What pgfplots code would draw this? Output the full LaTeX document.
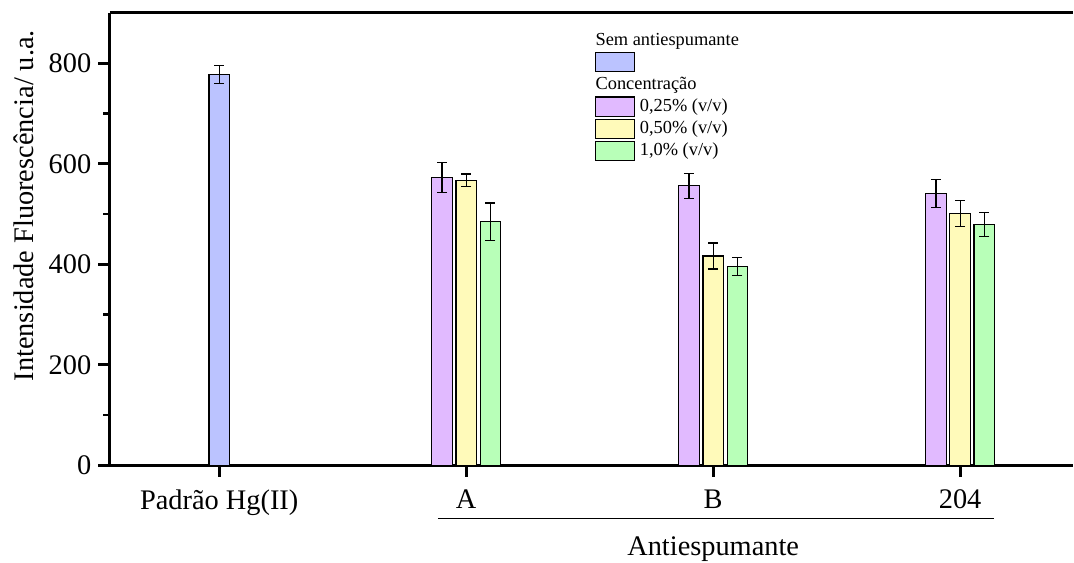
\documentclass[border=0pt]{standalone}
\usepackage{fontspec}
\setmainfont{Liberation Serif}
\usepackage{pgfplots}
\pgfplotsset{compat=1.18}

\definecolor{cBlue}{RGB}{187,195,255}
\definecolor{cPurple}{RGB}{225,186,255}
\definecolor{cYellow}{RGB}{255,250,186}
\definecolor{cGreen}{RGB}{184,255,184}

\pgfplotsset{
  boxleg/.style={legend image code/.code={\draw[##1, line width=0.6pt] (0pt,-4.8pt) rectangle (19.6pt,4.8pt);}},
  titleleg/.style={legend image code/.code={\node[overlay, anchor=west, inner sep=0pt, font=\fontsize{9.2}{10}\selectfont] at (0pt,0pt) {#1};}},
  errstyle/.style={error bars/.cd, y dir=both, y explicit,
    error bar style={line width=0.6pt, black},
    error mark=-,
    error mark options={rotate=90, line width=0.6pt, black, mark size=2.5pt}},
  barstyle/.style={ybar, bar width=0.083, bar shift=0, draw=black, line width=0.6pt, boxleg, errstyle},
}

\begin{document}
\begin{tikzpicture}
\begin{axis}[
  scale only axis, width=482pt, height=226.5pt,
  xmin=-0.443, xmax=3.455, ymin=0, ymax=900,
  axis x line*=box, axis y line*=left,
  axis line style={line width=1.5pt},
  xtick={0,1,2,3}, xticklabels={Padrão Hg(II),A,B,204},
  xtick pos=left,
  ytick={0,200,400,600,800}, minor ytick={100,300,500,700},
  tick align=outside,
  major tick length=5.8pt, minor tick length=3.4pt,
  every tick/.style={black, line width=1.4pt},
  tick label style={font=\fontsize{14.2}{17}\selectfont},
  xticklabel style={yshift=-3pt},
  /pgf/number format/assume math mode=true,
  ylabel={Intensidade Fluorescência/ u.a.},
  ylabel style={font=\fontsize{14.2}{17}\selectfont, at={(axis description cs:-0.1006,0.574)}, anchor=north, inner sep=0pt},
  clip=false,
  legend style={draw=none, fill=none, at={(rel axis cs:0.5031,0.9636)}, anchor=north west,
    inner sep=0pt, font=\fontsize{9.2}{10}\selectfont, row sep=0.9pt, column sep=2.5pt,
    nodes={inner sep=0pt, text height=7.6pt, text depth=2.6pt}},
  legend cell align=left,
]
% standard without antifoam
\addlegendimage{titleleg={Sem antiespumante}}
\addlegendentry{}
\addplot[fill=cBlue, barstyle]
  coordinates {(0,777) +- (0,18)};
\addlegendentry{}

% antifoam concentrations, each group centred on its tick
\addlegendimage{titleleg={Concentração}}
\addlegendentry{}
\addplot[fill=cPurple, barstyle]
  coordinates {(0.902,572.5) +- (0,30) (1.902,556) +- (0,25) (2.902,541) +- (0,28)};
\addlegendentry{0,25\% (v/v)}
\addplot[fill=cYellow, barstyle]
  coordinates {(1,567) +- (0,12.5) (2,416.5) +- (0,26) (3,501) +- (0,25.5)};
\addlegendentry{0,50\% (v/v)}
\addplot[fill=cGreen, barstyle]
  coordinates {(1.098,485) +- (0,37) (2.098,395.5) +- (0,18) (3.098,479) +- (0,24)};
\addlegendentry{1,0\% (v/v)}

% bracket under the antifoam groups
\draw[line width=0.9pt, yshift=-26.65pt] (axis cs:0.885,0) -- (axis cs:3.137,0);
\node[anchor=base, font=\fontsize{14.2}{17}\selectfont, inner sep=0pt] at ([yshift=-45.3pt]axis cs:2,0) {Antiespumante};
\end{axis}
\path (current axis.south west) ++(-55pt,-48.5pt);
\path (current axis.north west) ++(0,6.5pt);
\end{tikzpicture}
\end{document}
